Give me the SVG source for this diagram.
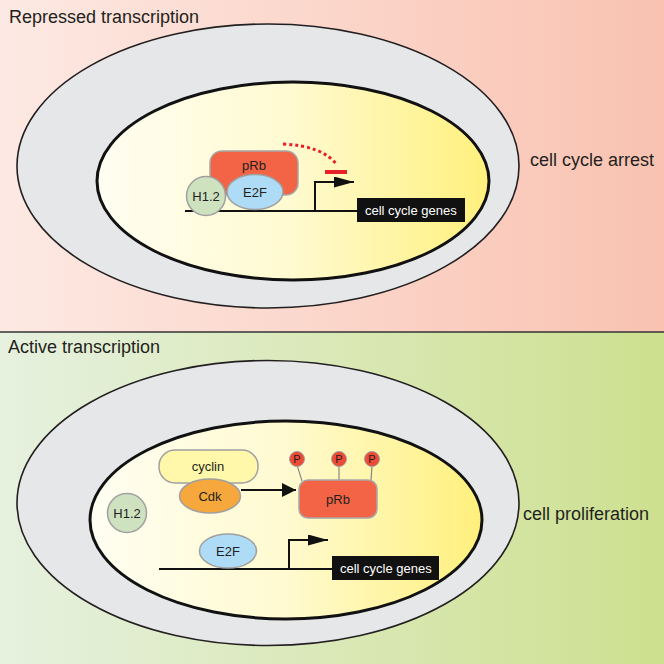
<svg xmlns="http://www.w3.org/2000/svg" width="664" height="664" viewBox="0 0 664 664">
<defs>
<linearGradient id="gTop" x1="0" y1="0" x2="1" y2="0"><stop offset="0" stop-color="#fde9e3"/><stop offset="1" stop-color="#f9c2b1"/></linearGradient>
<linearGradient id="gBot" x1="0" y1="0" x2="1" y2="0"><stop offset="0" stop-color="#e6f1df"/><stop offset="1" stop-color="#cde08f"/></linearGradient>
<linearGradient id="gNuc" x1="0" y1="0" x2="1" y2="0"><stop offset="0" stop-color="#fffef2"/><stop offset="0.5" stop-color="#fffad0"/><stop offset="1" stop-color="#fff07c"/></linearGradient>
<marker id="ah" viewBox="0 0 20 11" refX="20" refY="5.5" markerWidth="20" markerHeight="11" markerUnits="userSpaceOnUse" orient="auto"><path d="M0,0 L20,5.5 L0,11 Z" fill="#111"/></marker>
<marker id="ah2" viewBox="0 0 14 14" refX="14" refY="7" markerWidth="14" markerHeight="14" markerUnits="userSpaceOnUse" orient="auto"><path d="M0,0 L14,7 L0,14 Z" fill="#111"/></marker>
<style>
text{font-family:"Liberation Sans",Arial,sans-serif;fill:#231f20}
.title{font-size:18px}
.side{font-size:18px}
.lbl{font-size:13px;text-anchor:middle}
.outer{fill:#e6e7e8;stroke:#231f20;stroke-width:1.6}
.nuc{fill:url(#gNuc);stroke:#111;stroke-width:3}
.prb{fill:#f26445;stroke:#a7a7a7;stroke-width:1.5}
.h12{fill:#cfe2c0;stroke:#a0a0a0;stroke-width:1.5}
.e2f{fill:#aedcf6;stroke:#a0a0a0;stroke-width:1.5}
.cdk{fill:#f7a83c;stroke:#a0a0a0;stroke-width:1.5}
.cyc{fill:#fff7aa;stroke:#a0a0a0;stroke-width:1.5}
.pc{fill:#ee4a35;stroke:#a0a0a0;stroke-width:1}
.pt{font-size:11px;text-anchor:middle}
.dna{stroke:#111;stroke-width:2;fill:none}
.box{fill:#111}
.boxt{fill:#fff;font-size:13px}
</style>
</defs>
<rect x="0" y="0" width="664" height="332" fill="url(#gTop)"/>
<rect x="0" y="332" width="664" height="332" fill="url(#gBot)"/>
<line x1="0" y1="332" x2="664" y2="332" stroke="#333" stroke-width="1.5"/>
<text class="title" x="9" y="23">Repressed transcription</text>
<text class="title" x="8" y="353">Active transcription</text>

<g id="cell-top">
<ellipse class="outer" cx="268" cy="166" rx="251" ry="142"/>
<ellipse class="nuc" cx="293" cy="181" rx="196" ry="99"/>
</g>
<g id="cell-bottom">
<ellipse class="outer" cx="268" cy="503" rx="251" ry="142.5"/>
<ellipse class="nuc" cx="286" cy="520" rx="196" ry="99"/>
</g>

<text class="side" x="530" y="166">cell cycle arrest</text>
<text class="side" x="523" y="520">cell proliferation</text>

<g id="connectors">
<path class="dna" d="M185,211 H360"/>
<path class="dna" d="M315,211 V182 H354" marker-end="url(#ah)"/>
<path d="M283,144 Q323,146 337,165" fill="none" stroke="#e8202a" stroke-width="3" stroke-dasharray="3,3"/>
<line x1="325" y1="172" x2="347" y2="172" stroke="#e8202a" stroke-width="4"/>
<path class="dna" d="M159,569 H335"/>
<path class="dna" d="M289,569 V540 H328" marker-end="url(#ah)"/>
<line x1="241" y1="490" x2="296" y2="490" stroke="#111" stroke-width="2" marker-end="url(#ah2)"/>
</g>

<g id="prb-top">
<rect class="prb" x="210" y="151" width="88" height="44" rx="12"/>
<text class="lbl" x="254" y="170">pRb</text>
</g>
<g id="e2f-top">
<ellipse class="e2f" cx="255" cy="192" rx="28" ry="17.5"/>
<text class="lbl" x="255" y="197">E2F</text>
</g>
<g id="h12-top">
<circle class="h12" cx="206" cy="196" r="19.5"/>
<text class="lbl" x="206" y="201">H1.2</text>
</g>
<g id="genes-top">
<rect class="box" x="357" y="198" width="108" height="24"/>
<text class="boxt" x="365" y="215">cell cycle genes</text>
</g>

<g id="cyclin">
<rect class="cyc" x="159" y="450" width="99" height="33" rx="16"/>
<text class="lbl" x="208" y="471">cyclin</text>
</g>
<g id="cdk">
<ellipse class="cdk" cx="210" cy="496" rx="30.5" ry="17"/>
<text class="lbl" x="210" y="501">Cdk</text>
</g>
<g id="prb-bottom">
<line x1="297" y1="465" x2="302" y2="481" stroke="#888" stroke-width="1.2"/>
<line x1="339" y1="465" x2="339" y2="481" stroke="#888" stroke-width="1.2"/>
<line x1="372" y1="465" x2="371" y2="481" stroke="#888" stroke-width="1.2"/>
<rect class="prb" x="299" y="480" width="78" height="38" rx="9"/>
<text class="lbl" x="338" y="504">pRb</text>
<circle class="pc" cx="297" cy="459" r="7.5"/>
<circle class="pc" cx="339" cy="459" r="7.5"/>
<circle class="pc" cx="372" cy="459" r="7.5"/>
<text class="pt" x="297" y="463">P</text>
<text class="pt" x="339" y="463">P</text>
<text class="pt" x="372" y="463">P</text>
</g>
<g id="h12-bottom">
<circle class="h12" cx="127" cy="513" r="19.5"/>
<text class="lbl" x="127" y="518">H1.2</text>
</g>
<g id="e2f-bottom">
<ellipse class="e2f" cx="228" cy="551" rx="28.5" ry="17"/>
<text class="lbl" x="228" y="556">E2F</text>
</g>
<g id="genes-bottom">
<rect class="box" x="332" y="556" width="107" height="24"/>
<text class="boxt" x="340" y="573">cell cycle genes</text>
</g>
</svg>
